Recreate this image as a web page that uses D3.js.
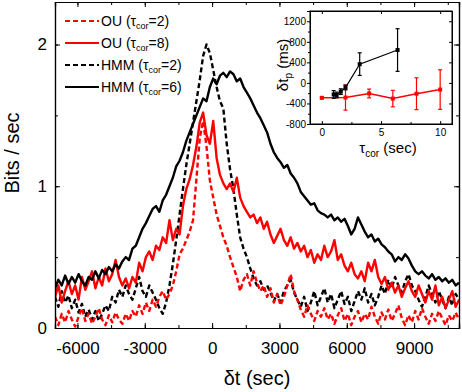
<!DOCTYPE html>
<html>
<head>
<meta charset="utf-8">
<script src="https://cdn.jsdelivr.net/npm/d3@7"></script>
<style>
  body { margin: 0; background: #fff; }
  text { font-family: Arial, "Liberation Sans", sans-serif; }
</style>
</head>
<body>
<div id="chart"></div>
<script>
// ---- data ----
// sampling grid of the main curves (sec)
const dtStart = -7000, dtStep = 150;

const hmm6 = [0.28,0.34,0.30,0.37,0.31,0.36,0.32,0.38,0.33,0.30,0.36,0.34,0.40,0.35,0.41,0.38,0.43,0.40,0.45,0.42,
  0.47,0.50,0.48,0.56,0.58,0.64,0.70,0.74,0.79,0.84,0.86,0.82,0.90,0.94,1.00,1.06,1.14,1.18,1.24,1.32,
  1.38,1.44,1.50,1.56,1.62,1.60,1.70,1.76,1.72,1.78,1.80,1.77,1.81,1.79,1.74,1.76,1.70,1.66,1.62,1.57,
  1.52,1.48,1.43,1.38,1.30,1.24,1.20,1.17,1.13,1.15,1.09,1.06,1.02,0.96,0.93,0.90,0.87,0.88,0.83,0.81,
  0.80,0.78,0.80,0.76,0.78,0.75,0.77,0.72,0.66,0.70,0.78,0.73,0.68,0.64,0.66,0.61,0.63,0.59,0.57,0.54,
  0.52,0.47,0.50,0.48,0.52,0.49,0.44,0.40,0.38,0.40,0.37,0.35,0.38,0.34,0.36,0.33,0.35,0.32,0.34,0.30,0.32];

const hmm2 = [0.22,0.15,0.26,0.18,0.23,0.14,0.20,0.11,0.17,0.08,0.13,0.06,0.12,0.05,0.10,0.16,0.12,0.22,0.18,0.27,
  0.22,0.30,0.24,0.20,0.28,0.36,0.26,0.22,0.30,0.25,0.20,0.14,0.10,0.18,0.30,0.45,0.62,0.80,0.98,1.15,
  1.30,1.45,1.60,1.75,1.92,2.00,1.94,1.82,1.70,1.60,1.55,1.30,1.12,0.98,0.80,0.64,0.56,0.50,0.42,0.35,
  0.30,0.33,0.27,0.30,0.25,0.19,0.24,0.18,0.26,0.30,0.34,0.25,0.20,0.15,0.22,0.12,0.18,0.26,0.16,0.22,
  0.28,0.18,0.24,0.14,0.20,0.26,0.17,0.22,0.12,0.19,0.26,0.20,0.28,0.18,0.24,0.16,0.22,0.30,0.24,0.34,
  0.28,0.36,0.30,0.25,0.33,0.38,0.30,0.26,0.20,0.15,0.22,0.30,0.24,0.18,0.26,0.20,0.14,0.22,0.16,0.24,0.20];

const ou8 = [0.22,0.30,0.18,0.26,0.33,0.24,0.30,0.20,0.36,0.27,0.33,0.40,0.28,0.36,0.30,0.42,0.33,0.38,0.48,0.36,
  0.30,0.35,0.28,0.36,0.32,0.46,0.40,0.50,0.54,0.48,0.58,0.55,0.64,0.60,0.76,0.62,0.70,0.66,0.86,0.98,
  1.05,1.15,1.28,1.45,1.52,1.36,1.30,1.46,1.20,1.08,1.02,0.98,1.02,0.96,1.06,0.92,0.86,0.82,0.78,0.80,
  0.74,0.78,0.70,0.75,0.66,0.60,0.65,0.70,0.62,0.58,0.64,0.56,0.60,0.54,0.58,0.50,0.55,0.46,0.52,0.48,
  0.58,0.50,0.54,0.62,0.48,0.52,0.44,0.40,0.46,0.38,0.35,0.40,0.33,0.46,0.40,0.48,0.36,0.31,0.36,0.27,
  0.32,0.25,0.30,0.22,0.28,0.33,0.26,0.22,0.30,0.24,0.18,0.26,0.20,0.30,0.16,0.22,0.14,0.20,0.26,0.15,0.20];

const ou2 = [0.08,0.02,0.10,0.04,0.12,0.06,0.01,0.08,0.14,0.05,0.10,0.03,0.08,0.14,0.06,0.02,0.09,0.04,0.11,0.06,
  0.03,0.10,0.05,0.12,0.08,0.16,0.10,0.18,0.12,0.20,0.15,0.22,0.26,0.20,0.24,0.30,0.40,0.52,0.56,0.62,
  0.68,0.76,1.05,1.34,1.46,1.28,1.04,0.92,0.80,0.72,0.64,0.58,0.50,0.43,0.36,0.26,0.34,0.38,0.30,0.40,
  0.32,0.26,0.30,0.22,0.28,0.18,0.24,0.16,0.22,0.30,0.38,0.26,0.20,0.13,0.08,0.16,0.10,0.05,0.12,0.08,
  0.14,0.06,0.10,0.03,0.09,0.14,0.05,0.10,0.02,0.08,0.12,0.04,0.10,0.06,0.15,0.08,0.03,0.11,0.06,0.13,
  0.05,0.10,0.16,0.07,0.02,0.09,0.04,0.12,0.06,0.14,0.08,0.03,0.10,0.05,0.12,0.07,0.02,0.09,0.05,0.11,0.06];

const xTicks = [-6000, -3000, 0, 3000, 6000, 9000];
const yTicks = [0, 1, 2];

// inset: peak shift vs correlation time
const ouTau   = [0, 2, 4, 6, 8, 10];
const ouShift = [-290, -285, -205, -305, -210, -130];
const ouErr   = [20, 245, 85, 160, 310, 385];
const hmmTau   = [1, 1.25, 1.6, 2, 3.2, 6.4];
const hmmShift = [-225, -235, -170, -90, 365, 640];
const hmmErr   = [75, 55, 55, 45, 220, 415];
const insetXTicks = [0, 5, 10];
const insetYTicks = [-800, -400, 0, 400, 800, 1200];

const legendItems = [
  {name: "OU", tau: 2, color: "#ff0000", dash: "5,3"},
  {name: "OU", tau: 8, color: "#ff0000", dash: null},
  {name: "HMM", tau: 2, color: "#000000", dash: "5,3"},
  {name: "HMM", tau: 6, color: "#000000", dash: null}
];

// plain hyphen for negatives, like the original
const fmt = d => String(d);

// ---- layout ----
const width = 462, height = 392;
const margin = {top: 2, right: 3, bottom: 64, left: 55};
const innerWidth = width - margin.left - margin.right;
const innerHeight = height - margin.top - margin.bottom;

const svg = d3.select("#chart").append("svg")
  .attr("width", width).attr("height", height);

const inner = svg.append("g")
  .attr("transform", `translate(${margin.left}, ${margin.top})`);

const xScale = d3.scaleLinear().domain([-7000, 11000]).range([0, innerWidth]);
const yScale = d3.scaleLinear().domain([0, 2.3]).range([innerHeight, 0]);

svg.append("defs").append("clipPath").attr("id", "clip")
  .append("rect").attr("width", innerWidth).attr("height", innerHeight);

// curves
const series = [
  {values: hmm2, color: "#000", dash: "5,3"},
  {values: ou2, color: "#ff0000", dash: "5,3"},
  {values: ou8, color: "#ff0000", dash: null},
  {values: hmm6, color: "#000", dash: null}
];
const line = d3.line()
  .x((d, i) => xScale(dtStart + i * dtStep))
  .y(d => yScale(d));

const curves = inner.append("g").attr("clip-path", "url(#clip)");
series.forEach(s => {
  curves.append("path")
    .datum(s.values)
    .attr("d", line)
    .attr("fill", "none")
    .attr("stroke", s.color)
    .attr("stroke-width", 2.4)
    .attr("stroke-linejoin", "round")
    .attr("stroke-dasharray", s.dash);
});

// axes: ticks inside, mirrored on top/right
const xMinor = d3.range(-7500, 11001, 1500).filter(v => v >= -7000);
const yMinor = d3.range(0, 2.31, 0.5);

function drawAxis(axis, transform, labels) {
  const g = inner.append("g").attr("transform", transform).call(axis);
  g.select(".domain").attr("stroke", "#000").attr("stroke-width", 1.2);
  g.selectAll(".tick line").attr("stroke", "#000").attr("stroke-width", 1);
  if (!labels) g.selectAll(".tick text").remove();
  return g;
}

drawAxis(d3.axisBottom(xScale).tickValues(xMinor).tickSize(-3), `translate(0, ${innerHeight})`);
drawAxis(d3.axisTop(xScale).tickValues(xMinor).tickSize(-3), "translate(0, 0)");
drawAxis(d3.axisLeft(yScale).tickValues(yMinor).tickSize(-3), "translate(0, 0)");
drawAxis(d3.axisRight(yScale).tickValues(yMinor).tickSize(-3), `translate(${innerWidth}, 0)`);

const xAxisG = drawAxis(d3.axisBottom(xScale).tickValues(xTicks).tickSize(-5).tickPadding(14).tickFormat(fmt),
  `translate(0, ${innerHeight})`, true);
xAxisG.selectAll(".tick text").attr("font-size", 17).attr("font-family", "Arial, 'Liberation Sans', sans-serif");
drawAxis(d3.axisTop(xScale).tickValues(xTicks).tickSize(-5), "translate(0, 0)");

const yAxisG = drawAxis(d3.axisLeft(yScale).tickValues(yTicks).tickSize(-5).tickPadding(8).tickFormat(fmt),
  "translate(0, 0)", true);
yAxisG.selectAll(".tick text").attr("font-size", 17).attr("font-family", "Arial, 'Liberation Sans', sans-serif");
drawAxis(d3.axisRight(yScale).tickValues(yTicks).tickSize(-5), `translate(${innerWidth}, 0)`);

// axis titles
svg.append("text")
  .attr("transform", "translate(19, 153) rotate(-90)")
  .attr("text-anchor", "middle")
  .attr("font-size", 20)
  .text("Bits / sec");

svg.append("text")
  .attr("x", margin.left + innerWidth / 2)
  .attr("y", 385)
  .attr("text-anchor", "middle")
  .attr("font-size", 20)
  .text("δt (sec)");

// legend
const legend = svg.append("g").attr("transform", "translate(65, 21)");
legendItems.forEach((d, i) => {
  const row = legend.append("g").attr("transform", `translate(0, ${i * 22})`);
  row.append("line")
    .attr("x1", 0).attr("x2", 34)
    .attr("stroke", d.color).attr("stroke-width", 2.2)
    .attr("stroke-dasharray", d.dash);
  const t = row.append("text").attr("x", 36).attr("y", 5).attr("font-size", 14);
  t.append("tspan").text(`${d.name} (τ`);
  t.append("tspan").attr("font-size", 9).attr("dy", 3).text("cor");
  t.append("tspan").attr("dy", -3).text(`=${d.tau})`);
});

// ---- inset ----
const inset = {x: 310, y: 11, w: 142, h: 113};
const ig = svg.append("g").attr("transform", `translate(${inset.x}, ${inset.y})`);
ig.append("rect").attr("width", inset.w).attr("height", inset.h).attr("fill", "#fff");

const ix = d3.scaleLinear().domain([-1, 11]).range([0, inset.w]);
const iy = d3.scaleLinear().domain([-800, 1400]).range([inset.h, 0]);

function insetAxis(axis, transform, labels) {
  const g = ig.append("g").attr("transform", transform).call(axis);
  g.select(".domain").attr("stroke", "#000").attr("stroke-width", 1);
  g.selectAll(".tick line").attr("stroke", "#000");
  if (labels) {
    g.selectAll(".tick text").attr("font-size", 10).attr("font-family", "Arial, 'Liberation Sans', sans-serif");
  } else {
    g.selectAll(".tick text").remove();
  }
  return g;
}
const ixMinor = [2.5, 7.5];
const iyMinor = d3.range(-600, 1401, 400);
insetAxis(d3.axisBottom(ix).tickValues(ixMinor).tickSize(-2), `translate(0, ${inset.h})`);
insetAxis(d3.axisLeft(iy).tickValues(iyMinor).tickSize(2), "translate(0, 0)");
insetAxis(d3.axisTop(ix).tickValues(insetXTicks).tickSize(-3), "translate(0, 0)");
insetAxis(d3.axisRight(iy).tickValues(insetYTicks).tickSize(-3), `translate(${inset.w}, 0)`);
insetAxis(d3.axisBottom(ix).tickValues(insetXTicks).tickSize(-3).tickPadding(5).tickFormat(fmt), `translate(0, ${inset.h})`, true);
insetAxis(d3.axisLeft(iy).tickValues(insetYTicks).tickSize(3).tickPadding(1).tickFormat(fmt), "translate(0, 0)", true);

ig.append("text")
  .attr("x", inset.w / 2 + 7).attr("y", inset.h + 29)
  .attr("text-anchor", "middle").attr("font-size", 15)
  .call(t => {
    t.append("tspan").text("τ");
    t.append("tspan").attr("font-size", 10).attr("dy", 4).text("cor");
    t.append("tspan").attr("dy", -4).text(" (sec)");
  });

ig.append("text")
  .attr("transform", `translate(-22, ${54}) rotate(-90)`)
  .attr("text-anchor", "middle").attr("font-size", 15)
  .call(t => {
    t.append("tspan").text("δt");
    t.append("tspan").attr("font-size", 10).attr("dy", 4).text("p");
    t.append("tspan").attr("dy", -4).text(" (ms)");
  });

function drawInsetSeries(taus, shifts, errs, color, lw) {
  const pts = taus.map((t, i) => ({t, v: shifts[i], e: errs[i]}));
  const g = ig.append("g");
  g.append("path").datum(pts)
    .attr("d", d3.line().x(d => ix(d.t)).y(d => iy(d.v)))
    .attr("fill", "none").attr("stroke", color).attr("stroke-width", lw);
  const eb = g.selectAll(".eb").data(pts).join("g").attr("stroke", color).attr("stroke-width", 1.2);
  eb.append("line")
    .attr("x1", d => ix(d.t)).attr("x2", d => ix(d.t))
    .attr("y1", d => iy(d.v - d.e)).attr("y2", d => iy(d.v + d.e));
  eb.append("line")
    .attr("x1", d => ix(d.t) - 2).attr("x2", d => ix(d.t) + 2)
    .attr("y1", d => iy(d.v - d.e)).attr("y2", d => iy(d.v - d.e));
  eb.append("line")
    .attr("x1", d => ix(d.t) - 2).attr("x2", d => ix(d.t) + 2)
    .attr("y1", d => iy(d.v + d.e)).attr("y2", d => iy(d.v + d.e));
  g.selectAll(".mk").data(pts).join("rect")
    .attr("x", d => ix(d.t) - 2).attr("y", d => iy(d.v) - 2)
    .attr("width", 4).attr("height", 4).attr("fill", color);
}
drawInsetSeries(ouTau, ouShift, ouErr, "#ff0000", 1.5);
drawInsetSeries(hmmTau, hmmShift, hmmErr, "#000000", 1.2);

ig.append("rect").attr("width", inset.w).attr("height", inset.h)
  .attr("fill", "none").attr("stroke", "#000").attr("stroke-width", 1);
</script>
</body>
</html>
